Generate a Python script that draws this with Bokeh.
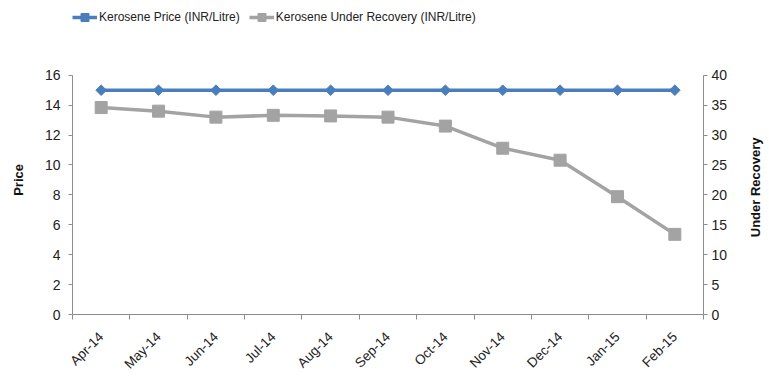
import math
from bokeh.plotting import figure
from bokeh.layouts import row
from bokeh.models import (Range1d, LinearAxis, FixedTicker, Legend, LegendItem, Label)
from bokeh.embed import file_html
from bokeh.resources import INLINE

months = ["Apr-14", "May-14", "Jun-14", "Jul-14", "Aug-14", "Sep-14",
          "Oct-14", "Nov-14", "Dec-14", "Jan-15", "Feb-15"]
price = [15, 15, 15, 15, 15, 15, 15, 15, 15, 15, 15]
under_recovery = [34.6, 34.0, 33.0, 33.3, 33.2, 33.0, 31.5, 27.8, 25.8, 19.7, 13.4]
left_ticks = [0, 2, 4, 6, 8, 10, 12, 14, 16]
right_ticks = [0, 5, 10, 15, 20, 25, 30, 35, 40]

FONT = "Liberation Sans"
BLUE = "#4A7EBB"
GRAY = "#A3A3A3"
AXIS = "#8C8C8C"

H = 379
BOTTOM = 64
FRAME_H = H - BOTTOM          # frame runs from the top of the canvas
LEFT_MAX = 16 * FRAME_H / 240  # values 0..16 use the lower 240 px
RIGHT_MAX = 40 * FRAME_H / 240
LW, PW, RW = 30, 715, 24       # widths: left title strip, chart, right title strip

xs = [i + 0.5 for i in range(len(months))]
left_range = Range1d(0, LEFT_MAX)
right_range = Range1d(0, RIGHT_MAX)

# ---------------- main chart ----------------
p = figure(width=PW, height=H, output_backend="svg", toolbar_location=None,
           x_range=Range1d(0, len(months)), y_range=left_range,
           min_border_left=42, min_border_right=42, min_border_top=0,
           min_border_bottom=BOTTOM)
p.extra_y_ranges = {"right": right_range}
p.outline_line_color = None
p.xgrid.visible = False
p.ygrid.visible = False
p.background_fill_color = "white"
p.border_fill_color = "white"

# x axis: labels at category centers, ticks on category boundaries
xax = p.xaxis[0]
xax.ticker = FixedTicker(ticks=xs, minor_ticks=list(range(len(months) + 1)))
xax.major_label_overrides = {x: m for x, m in zip(xs, months)}
xax.major_tick_line_color = None
xax.major_tick_out = 0
xax.major_tick_in = 0
xax.minor_tick_line_color = AXIS
xax.minor_tick_out = 5
xax.minor_tick_in = 0
xax.axis_line_color = AXIS
xax.major_label_orientation = math.pi / 4
xax.major_label_text_font = FONT
xax.major_label_text_font_size = "13.5px"
xax.major_label_text_color = "#222222"
xax.major_label_standoff = 15

yax = p.yaxis[0]
yax.ticker = FixedTicker(ticks=left_ticks)
yax.bounds = (0, 16)
yax.minor_tick_line_color = None
yax.major_tick_in = 0
yax.major_tick_out = 4
yax.major_tick_line_color = AXIS
yax.axis_line_color = AXIS
yax.major_label_text_font = FONT
yax.major_label_text_font_size = "14px"
yax.major_label_text_color = "#222222"
yax.major_label_standoff = 8

rax = LinearAxis(y_range_name="right", ticker=FixedTicker(ticks=right_ticks))
rax.bounds = (0, 40)
rax.minor_tick_line_color = None
rax.major_tick_in = 0
rax.major_tick_out = 4
rax.major_tick_line_color = AXIS
rax.axis_line_color = AXIS
rax.major_label_text_font = FONT
rax.major_label_text_font_size = "14px"
rax.major_label_text_color = "#222222"
rax.major_label_standoff = 4
p.add_layout(rax, "right")

l1 = p.line(xs, price, line_color=BLUE, line_width=3.5)
s1 = p.scatter(xs, price, marker="square", angle=math.pi / 4, size=7.5,
               fill_color=BLUE, line_color=BLUE)
l2 = p.line(xs, under_recovery, line_color=GRAY, line_width=3.5, y_range_name="right")
s2 = p.scatter(xs, under_recovery, marker="square", size=12,
               fill_color=GRAY, line_color=GRAY, y_range_name="right")

legend = Legend(items=[LegendItem(label="Kerosene Price (INR/Litre)", renderers=[l1, s1]),
                       LegendItem(label="Kerosene Under Recovery (INR/Litre)", renderers=[l2, s2])],
                orientation="horizontal", location=(0, FRAME_H - 28),
                glyph_width=25, label_standoff=2, spacing=9, padding=0, margin=0,
                label_text_font=FONT, label_text_font_size="12px",
                label_text_color="#222222", border_line_color=None,
                background_fill_alpha=0)
p.add_layout(legend, "center")


def title_strip(width, y_range, text, x, y):
    f = figure(width=width, height=H, output_backend="svg", toolbar_location=None,
               x_axis_type=None, y_axis_type=None,
               x_range=Range1d(0, 1), y_range=y_range,
               min_border_left=0, min_border_right=0, min_border_top=0,
               min_border_bottom=BOTTOM)
    f.outline_line_color = None
    f.xgrid.visible = False
    f.ygrid.visible = False
    f.background_fill_color = "white"
    f.border_fill_color = "white"
    f.add_layout(Label(x=x, y=y, text=text, angle=math.pi / 2,
                       text_align="center", text_baseline="middle",
                       text_font=FONT, text_font_style="bold", text_font_size="13px",
                       text_color="#111111"))
    return f


left_strip = title_strip(LW, left_range, "Price", 17.5 / LW, 9.0)
right_strip = title_strip(RW, right_range, "Under Recovery", 10 / RW, 21.25)

layout = row(left_strip, p, right_strip, spacing=0)
open("out.html", "w").write(file_html(layout, INLINE))
